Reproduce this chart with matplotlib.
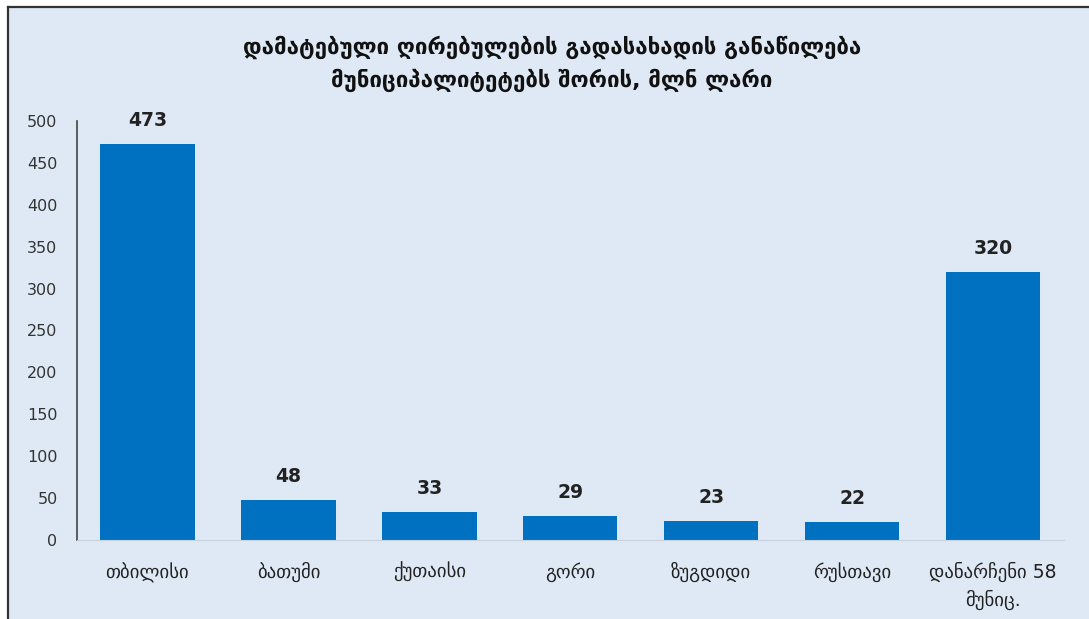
import matplotlib
matplotlib.use("Agg")
import matplotlib.pyplot as plt
from matplotlib.patches import Rectangle
from matplotlib.lines import Line2D

# data
cities = ["თბილისი", "ბათუმი", "ქუთაისი", "გორი", "ზუგდიდი", "რუსთავი",
          "დანარჩენი 58\nმუნიც."]
values = [473, 48, 33, 29, 23, 22, 320]
yticks = [0, 50, 100, 150, 200, 250, 300, 350, 400, 450, 500]
title = "დამატებული ღირებულების გადასახადის განაწილება\nმუნიციპალიტეტებს შორის, მლნ ლარი"

bg = "#dee9f5"
bar_col = "#0070c0"

plt.rcParams['font.family'] = ['DejaVu Sans']

fig = plt.figure(figsize=(10.89, 6.19), dpi=100, facecolor="white")
W, H = 1089, 619

# panel background with dark top/left border
fig.patches.append(Rectangle((8 / W, 0), 1 - 8 / W, 1 - 7 / H, transform=fig.transFigure,
                             facecolor=bg, edgecolor="none", zorder=-10))
fig.lines.append(Line2D([7.5 / W, 1], [1 - 7 / H, 1 - 7 / H], transform=fig.transFigure,
                        color="#333333", lw=1.6, zorder=-5))
fig.lines.append(Line2D([7.5 / W, 7.5 / W], [0, 1 - 7 / H], transform=fig.transFigure,
                        color="#333333", lw=1.6, zorder=-5))

ax = fig.add_axes([77 / W, 1 - 540 / H, (1063.5 - 77) / W, (540 - 121) / H])
ax.set_zorder(1)
ax.set_facecolor("none")
x = range(len(cities))
ax.bar(x, values, width=0.67, color=bar_col, zorder=2)
for xi, v in zip(x, values):
    ax.annotate(str(v), (xi, v), xytext=(0, 10), textcoords="offset points",
                ha="center", va="bottom", fontsize=13.5, fontweight="bold", color="#222222")

ax.set_xlim(-0.5, len(cities) - 0.5)
ax.set_ylim(0, 500)
ax.set_yticks(yticks)
ax.set_xticks(list(x))
ax.set_xticklabels(cities, fontsize=13.5, color="#222222", linespacing=1.45)
ax.tick_params(axis="y", length=0, pad=14, labelsize=11.5, labelcolor="#333333")
ax.tick_params(axis="x", length=0, pad=16)
for s in ["top", "right"]:
    ax.spines[s].set_visible(False)
ax.spines["left"].set_color("#444444")
ax.spines["left"].set_linewidth(1.2)
ax.spines["bottom"].set_color("#c8d2dc")

fig.text(552 / W, 1 - 64 / H, title, ha="center", va="center", fontsize=16,
         fontweight="bold", color="#111111", linespacing=1.55)

fig.savefig("out.png", dpi=100, facecolor=fig.get_facecolor())
